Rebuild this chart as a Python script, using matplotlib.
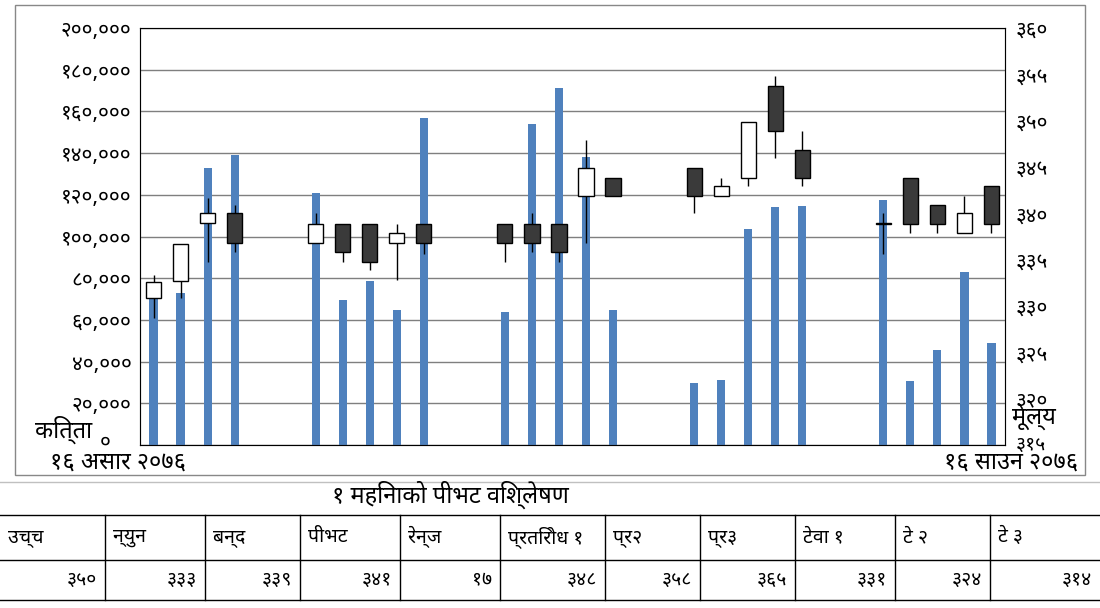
import matplotlib
matplotlib.use("Agg")
import matplotlib.pyplot as plt
from matplotlib.ticker import FuncFormatter

plt.rcParams['font.family'] = ['Noto Sans Devanagari', 'Lohit Devanagari', 'Mukta',
                               'Noto Sans', 'DejaVu Sans']

# slot index of each trading day (gaps = non-trading days)
slots = [0, 1, 2, 3, 6, 7, 8, 9, 10, 13, 14, 15, 16, 17, 20, 21, 22, 23, 24, 27, 28, 29, 30, 31]
volume = [72000, 73000, 133000, 139000, 121000, 69500, 78700, 64700, 157000,
          63800, 154000, 171000, 138000, 64700, 29700, 31000, 103600, 114000, 114600,
          117500, 30700, 45600, 83000, 49000]
opens = [330.9, 332.7, 339.0, 340.0, 336.8, 338.8, 338.8, 336.8, 338.8,
         338.8, 338.8, 338.8, 341.9, 343.8, 344.9, 341.9, 343.8, 353.7, 346.8,
         338.8, 343.8, 340.9, 337.9, 342.9]
closes = [332.6, 336.7, 340.0, 336.8, 338.8, 335.8, 334.7, 337.9, 336.8,
          336.8, 336.8, 335.8, 344.9, 341.9, 341.9, 342.9, 349.9, 348.9, 343.8,
          338.8, 338.8, 338.8, 340.0, 338.8]
highs = [333.3, 336.7, 341.7, 340.9, 340.0, 338.8, 338.8, 338.8, 338.8,
         338.8, 340.0, 338.8, 347.9, 343.8, 344.9, 343.8, 349.9, 354.8, 348.9,
         340.0, 343.8, 340.9, 341.9, 342.9]
lows = [328.7, 330.9, 334.7, 335.8, 336.8, 334.7, 333.9, 332.8, 335.6,
        334.7, 335.8, 334.7, 336.8, 341.9, 340.0, 341.9, 342.9, 346.0, 342.9,
        335.6, 337.9, 337.9, 337.9, 337.9]

headers = ['उच्च', 'न्युन', 'बन्द', 'पीभट', 'रेन्ज', 'प्रतिरोध १', 'प्र२', 'प्र३', 'टेवा १', 'टे २', 'टे ३']
values = ['३५०', '३३३', '३३९', '३४१', '१७', '३४८', '३५८', '३६५', '३३१', '३२४', '३१४']

DEV = str.maketrans('0123456789', '०१२३४५६७८९')


def dev(n):
    return f"{int(n):,}".translate(DEV)


fig = plt.figure(figsize=(11, 6.08), dpi=100)
fig.patches.append(plt.Rectangle((15 / 1100, 1 - 475 / 608), 1070 / 1100, 470 / 608,
                                 transform=fig.transFigure, fill=False, ec='#888888', lw=1))

ax = fig.add_axes([140 / 1100, 1 - 445 / 608, 865 / 1100, 417 / 608])
ax.bar(slots, volume, width=0.3, color='#4F81BD', zorder=2)
ax.set_xlim(-0.5, 31.5)
ax.set_ylim(0, 200000)
ax.set_yticks(range(0, 200001, 20000))
ax.yaxis.set_major_formatter(FuncFormatter(lambda v, p: '' if v == 0 else dev(v)))
ax.grid(axis='y', color='#7f7f7f', lw=1, zorder=0)
ax.set_xticks([])
ax.tick_params(axis='y', length=0, labelsize=15, pad=6)
for s in ax.spines.values():
    s.set_color('#7f7f7f')

ax2 = ax.twinx()
ax2.set_ylim(315, 360)
ax2.set_yticks(range(315, 361, 5))
ax2.yaxis.set_major_formatter(FuncFormatter(lambda v, p: '' if v == 315 else dev(v)))
ax2.tick_params(axis='y', length=0, labelsize=15, pad=8)
for x, o, c, h, l in zip(slots, opens, closes, highs, lows):
    ax2.vlines(x, l, h, color='black', lw=1, zorder=3)
    col = 'white' if c >= o else '#3a3a3a'
    hgt = max(abs(c - o), 0.15)
    ax2.add_patch(plt.Rectangle((x - 0.28, min(o, c)), 0.56, hgt, fc=col, ec='black',
                                lw=1, zorder=4))

fig.text(35 / 1100, 1 - 430 / 608, 'कित्ता', fontsize=17, weight='bold', va='center')
fig.text(100 / 1100, 1 - 442 / 608, '०', fontsize=15, weight='bold', va='center')
fig.text(1012 / 1100, 1 - 418 / 608, 'मूल्य', fontsize=17, weight='bold', va='center')
fig.text(1016 / 1100, 1 - 445 / 608, '३१५', fontsize=14, va='center')
fig.text(50 / 1100, 1 - 463 / 608, '१६ असार २०७६', fontsize=17, weight='bold', va='center')
fig.text(1078 / 1100, 1 - 463 / 608, '१६ साउन २०७६', fontsize=17, weight='bold',
         va='center', ha='right')
fig.text(450 / 1100, 1 - 495 / 608, '१ महिनाको पीभट विश्लेषण', fontsize=17,
         weight='bold', va='center', ha='center')

# spreadsheet-like table
cols = [0, 105, 205, 300, 400, 500, 605, 700, 795, 895, 990, 1100]
for y in [482, 515, 560, 600]:
    fig.add_artist(plt.Line2D([0, 1], [1 - y / 608] * 2, color='#c0c0c0' if y == 482 else 'black',
                              lw=1, transform=fig.transFigure))
for x in cols[1:-1]:
    fig.add_artist(plt.Line2D([x / 1100] * 2, [1 - 515 / 608, 1 - 600 / 608],
                              color='black', lw=1, transform=fig.transFigure))
for i, (hd, v) in enumerate(zip(headers, values)):
    fig.text((cols[i] + 8) / 1100, 1 - 537 / 608, hd, fontsize=14, weight='bold', va='center')
    fig.text((cols[i + 1] - 8) / 1100, 1 - 580 / 608, v, fontsize=14, va='center', ha='right')

fig.savefig('out.png', dpi=100)
